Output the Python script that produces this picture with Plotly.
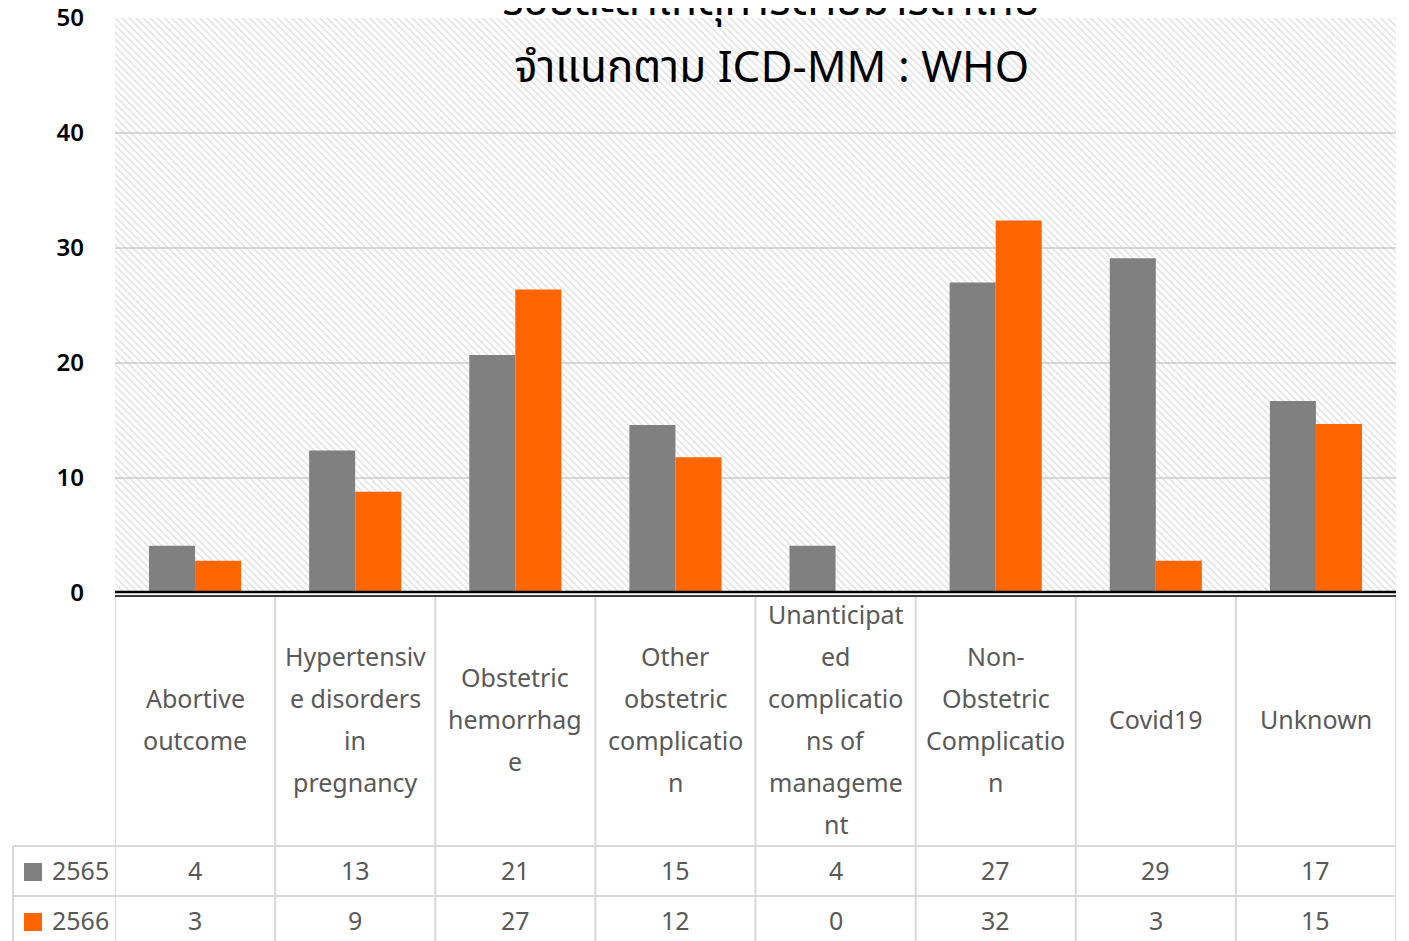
import plotly.graph_objects as go

# ---------------- data ----------------
categories = [
    "Abortive outcome",
    "Hypertensive disorders in pregnancy",
    "Obstetric hemorrhage",
    "Other obstetric complication",
    "Unanticipated complications of management",
    "Non-Obstetric Complication",
    "Covid19",
    "Unknown",
]
category_lines = [
    ["Abortive", "outcome"],
    ["Hypertensiv", "e disorders", "in", "pregnancy"],
    ["Obstetric", "hemorrhag", "e"],
    ["Other", "obstetric", "complicatio", "n"],
    ["Unanticipat", "ed", "complicatio", "ns of", "manageme", "nt"],
    ["Non-", "Obstetric", "Complicatio", "n"],
    ["Covid19"],
    ["Unknown"],
]
series_names = ["2565", "2566"]
values_2565 = [4.1, 12.4, 20.7, 14.6, 4.1, 27.0, 29.1, 16.7]
values_2566 = [2.8, 8.8, 26.4, 11.8, 0.0, 32.4, 2.8, 14.7]
table_2565 = ["4", "13", "21", "15", "4", "27", "29", "17"]
table_2566 = ["3", "9", "27", "12", "0", "32", "3", "15"]
y_ticks = [0, 10, 20, 30, 40, 50]
title_lines = ["ร้อยละสาเหตุการตายมารดาไทย", "จำแนกตาม ICD-MM : WHO"]

# ---------------- style / geometry (screen pixels) ----------------
W, H = 1409, 941
OFF = 8                      # page body margin offset
PL, PR, PT, PB = 115, 1396, 18, 593   # plot area on screen
L = PL - OFF
T = PT - OFF
R = W - (PR - OFF)
B = H - (PB - OFF)
PLOT_H = PB - PT
PLOT_W = PR - PL
COL_GREY = "#808080"
COL_ORANGE = "#ff6600"
TXT = "#595959"
BORDER = "#d9d9d9"
FONT = "Noto Sans Thai, Noto Sans, Open Sans, sans-serif"


def py(p):
    """screen pixel row -> paper y"""
    return (PB - p) / PLOT_H


def px(p):
    """screen pixel column -> paper x"""
    return (p - PL) / PLOT_W


fig = go.Figure()

# hatched plot-area background (single bar spanning the whole area)
fig.add_trace(go.Bar(
    x=[0.5], y=[max(y_ticks)], width=[1], xaxis="x", yaxis="y",
    marker=dict(color="rgba(0,0,0,0)", line=dict(width=0),
                pattern=dict(shape="\\", fgcolor="#c4c4c4", size=5,
                             solidity=0.32, fillmode="overlay")),
    hoverinfo="skip", showlegend=False,
))

for name, vals, col in [(series_names[0], values_2565, COL_GREY),
                        (series_names[1], values_2566, COL_ORANGE)]:
    fig.add_trace(go.Bar(
        x=categories, y=vals, name=name, xaxis="x2", yaxis="y",
        marker=dict(color=col, line=dict(width=0)),
        hoverinfo="skip", showlegend=False,
    ))

shapes = []
annotations = []

# axis base lines
shapes.append(dict(type="line", xref="paper", yref="paper", x0=0, x1=1,
                   y0=py(592), y1=py(592), line=dict(color="black", width=2.5), layer="above"))
shapes.append(dict(type="line", xref="paper", yref="paper", x0=0, x1=1,
                   y0=py(596), y1=py(596), line=dict(color="#3a3a3a", width=2), layer="above"))

# table grid
for p in [846, 896]:
    shapes.append(dict(type="line", xref="paper", yref="paper", x0=px(13), x1=1,
                       y0=py(p), y1=py(p), line=dict(color=BORDER, width=2)))
shapes.append(dict(type="line", xref="paper", yref="paper", x0=px(13), x1=px(13),
                   y0=py(846), y1=py(H + 20), line=dict(color=BORDER, width=2)))
for i in range(len(categories) + 1):
    shapes.append(dict(type="line", xref="x2", yref="paper", x0=i - 0.5, x1=i - 0.5,
                       y0=py(597), y1=py(H + 20), line=dict(color=BORDER, width=2)))

# category labels
LINE_GAP = 42
for cat, lines in zip(categories, category_lines):
    n = len(lines)
    for k, ln in enumerate(lines):
        yc = 721 + (k - (n - 1) / 2) * LINE_GAP
        annotations.append(dict(x=cat, xref="x2", y=py(yc), yref="paper", text=ln,
                                showarrow=False, xanchor="center", yanchor="middle",
                                font=dict(family=FONT, size=25, color=TXT)))

# table values
for row_y, vals in [(872, table_2565), (922, table_2566)]:
    for cat, v in zip(categories, vals):
        annotations.append(dict(x=cat, xref="x2", y=py(row_y), yref="paper", text=v,
                                showarrow=False, xanchor="center", yanchor="middle",
                                font=dict(family=FONT, size=25, color=TXT)))

# row legend keys
for row_y, name, col in [(872, series_names[0], COL_GREY), (922, series_names[1], COL_ORANGE)]:
    shapes.append(dict(type="rect", xref="paper", yref="paper", x0=px(24), x1=px(42),
                       y0=py(row_y + 9), y1=py(row_y - 9), fillcolor=col, line=dict(width=0)))
    annotations.append(dict(x=px(50), xref="paper", y=py(row_y), yref="paper", text=name,
                            showarrow=False, xanchor="left", yanchor="middle",
                            font=dict(family=FONT, size=25, color=TXT)))

# title (two lines, the first partly cut off at the top)
for yc, t in [(1, title_lines[0]), (68, title_lines[1])]:
    annotations.append(dict(x=px(771), xref="paper", y=py(yc), yref="paper", text=t,
                            showarrow=False, xanchor="center", yanchor="middle",
                            font=dict(family=FONT, size=44, color="black")))

fig.update_layout(
    width=W, height=H,
    margin=dict(l=L, r=R, t=T, b=B, pad=0, autoexpand=False),
    paper_bgcolor="white", plot_bgcolor="white",
    barmode="group", bargap=0.425, bargroupgap=0,
    xaxis=dict(range=[0, 1], visible=False, fixedrange=True, automargin=False),
    xaxis2=dict(overlaying="x", type="category", range=[-0.5, len(categories) - 0.5],
                showticklabels=False, showgrid=False, zeroline=False, showline=False,
                ticks="", fixedrange=True, automargin=False),
    yaxis=dict(range=[0, 50], tickvals=y_ticks, showgrid=True, gridcolor=BORDER, gridwidth=2,
               zeroline=False, showline=False, ticks="", ticklabelstandoff=30,
               ticklabeloverflow="allow",
               tickfont=dict(family=FONT, size=24, color="black", weight=600),
               fixedrange=True, automargin=False),
    shapes=shapes, annotations=annotations,
    showlegend=False,
)

fig.write_html("out.html")
